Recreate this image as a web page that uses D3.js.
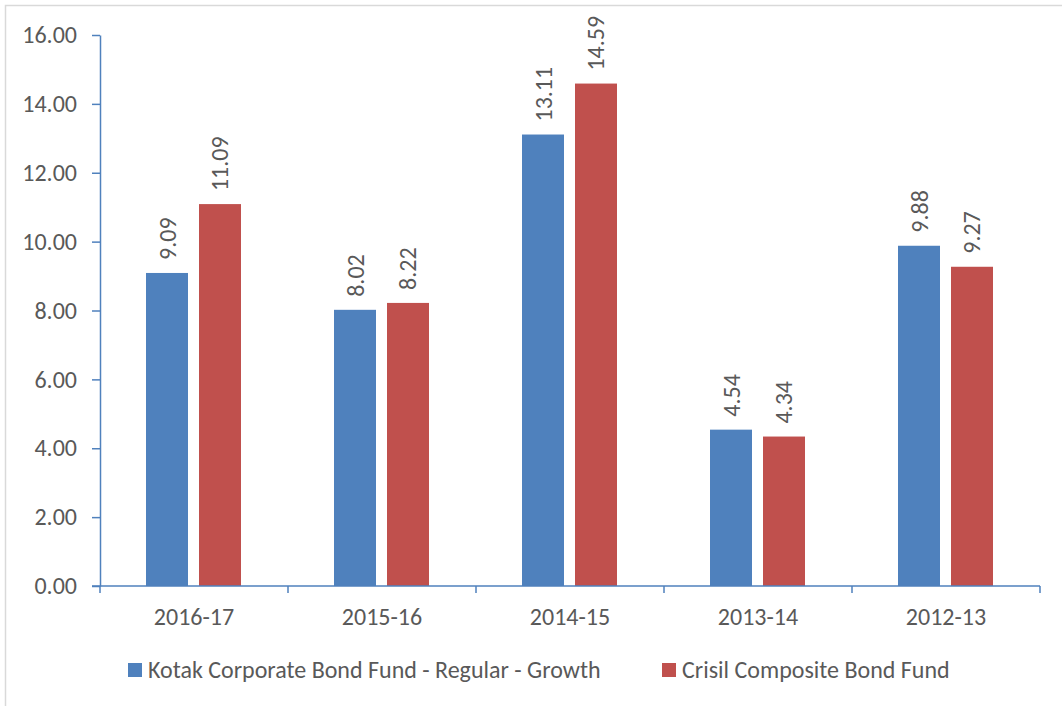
<!DOCTYPE html>
<html lang="en">
  <head>
    <meta charset="UTF-8" />
    <title>Kotak Corporate Bond Fund vs Crisil Composite Bond Fund</title>
    <script src="https://d3js.org/d3.v7.min.js"></script>
    <style>
      body {
        margin: 0;
        background: #fff;
      }
      text {
        font-family: Calibri, Carlito, "Open Sans", sans-serif;
        fill: #595959;
      }
    </style>
  </head>
  <body>
    <svg width="1062" height="706"></svg>

    <script>
      // 数据
      const categories = ["2016-17", "2015-16", "2014-15", "2013-14", "2012-13"];
      const seriesNames = [
        "Kotak Corporate Bond Fund - Regular - Growth",
        "Crisil Composite Bond Fund",
      ];
      const fundValues = [9.09, 8.02, 13.11, 4.54, 9.88];
      const benchValues = [11.09, 8.22, 14.59, 4.34, 9.27];
      const yTicks = [0, 2, 4, 6, 8, 10, 12, 14, 16];

      const colors = ["#4F81BD", "#C0504D"];
      const axisColor = "#4F81BD";
      const fontSize = "24px";

      const plotLeft = 100;
      const plotRight = 1040;
      const plotTop = 35;
      const plotBottom = 586;

      const svg = d3.select("svg");

      // 外框
      svg
        .append("rect")
        .attr("x", 5.5)
        .attr("y", 5.5)
        .attr("width", 1100)
        .attr("height", 800)
        .attr("fill", "none")
        .attr("stroke", "#d9d9d9")
        .attr("stroke-width", 1.5);

      const x0 = d3.scaleBand().domain(categories).range([plotLeft, plotRight]);
      const x1 = d3
        .scaleBand()
        .domain(seriesNames)
        .range([46, 141])
        .paddingInner(0.2075);
      const y = d3.scaleLinear().domain([0, 16]).range([plotBottom, plotTop]);

      // 柱子
      const rows = categories.map((c, i) => ({
        cat: c,
        vals: [fundValues[i], benchValues[i]],
      }));

      const groups = svg
        .selectAll("g.group")
        .data(rows)
        .enter()
        .append("g")
        .attr("class", "group")
        .attr("transform", (d) => `translate(${x0(d.cat)},0)`);

      groups
        .selectAll("rect")
        .data((d) => d.vals.map((v, j) => ({ v, j })))
        .enter()
        .append("rect")
        .attr("x", (d) => x1(seriesNames[d.j]))
        .attr("y", (d) => y(d.v))
        .attr("width", x1.bandwidth())
        .attr("height", (d) => y(0) - y(d.v))
        .attr("fill", (d) => colors[d.j]);

      // 数值标签（竖排）
      groups
        .selectAll("text.label")
        .data((d) => d.vals.map((v, j) => ({ v, j })))
        .enter()
        .append("text")
        .attr("class", "label")
        .attr("transform", (d) => {
          const cx = x1(seriesNames[d.j]) + x1.bandwidth() / 2;
          return `translate(${cx},${y(d.v) - 13}) rotate(-90)`;
        })
        .attr("dominant-baseline", "central")
        .attr("text-anchor", "start")
        .style("font-size", fontSize)
        .text((d) => d.v.toFixed(2));

      // Y 轴
      const yAxis = svg
        .append("g")
        .attr("transform", `translate(${plotLeft},0)`)
        .call(
          d3
            .axisLeft(y)
            .tickValues(yTicks)
            .tickFormat(d3.format(".2f"))
            .tickSize(8)
            .tickSizeOuter(0)
            .tickPadding(15)
        );
      yAxis.selectAll("path, line").attr("stroke", axisColor).attr("stroke-width", 1.5);
      yAxis.selectAll("text").style("font-size", fontSize).attr("fill", "#595959");

      // X 轴
      const xAxis = svg.append("g");
      xAxis
        .append("line")
        .attr("x1", plotLeft - 8)
        .attr("x2", plotRight)
        .attr("y1", plotBottom)
        .attr("y2", plotBottom)
        .attr("stroke", axisColor)
        .attr("stroke-width", 1.5);
      const bounds = categories.map((c) => x0(c)).concat([plotRight]);
      xAxis
        .selectAll("line.tick")
        .data(bounds)
        .enter()
        .append("line")
        .attr("class", "tick")
        .attr("x1", (d) => d)
        .attr("x2", (d) => d)
        .attr("y1", plotBottom)
        .attr("y2", plotBottom + 7)
        .attr("stroke", axisColor)
        .attr("stroke-width", 1.5);
      xAxis
        .selectAll("text")
        .data(categories)
        .enter()
        .append("text")
        .attr("x", (d) => x0(d) + x0.bandwidth() / 2)
        .attr("y", 625)
        .attr("text-anchor", "middle")
        .style("font-size", fontSize)
        .text((d) => d);

      // 图例
      const legendX = [128, 662];
      const legend = svg
        .selectAll("g.legend")
        .data(seriesNames)
        .enter()
        .append("g")
        .attr("class", "legend")
        .attr("transform", (d, i) => `translate(${legendX[i]},663)`);
      legend
        .append("rect")
        .attr("width", 14)
        .attr("height", 14)
        .attr("fill", (d, i) => colors[i]);
      legend
        .append("text")
        .attr("x", 20)
        .attr("y", 15)
        .style("font-size", fontSize)
        .text((d) => d);
    </script>
  </body>
</html>
